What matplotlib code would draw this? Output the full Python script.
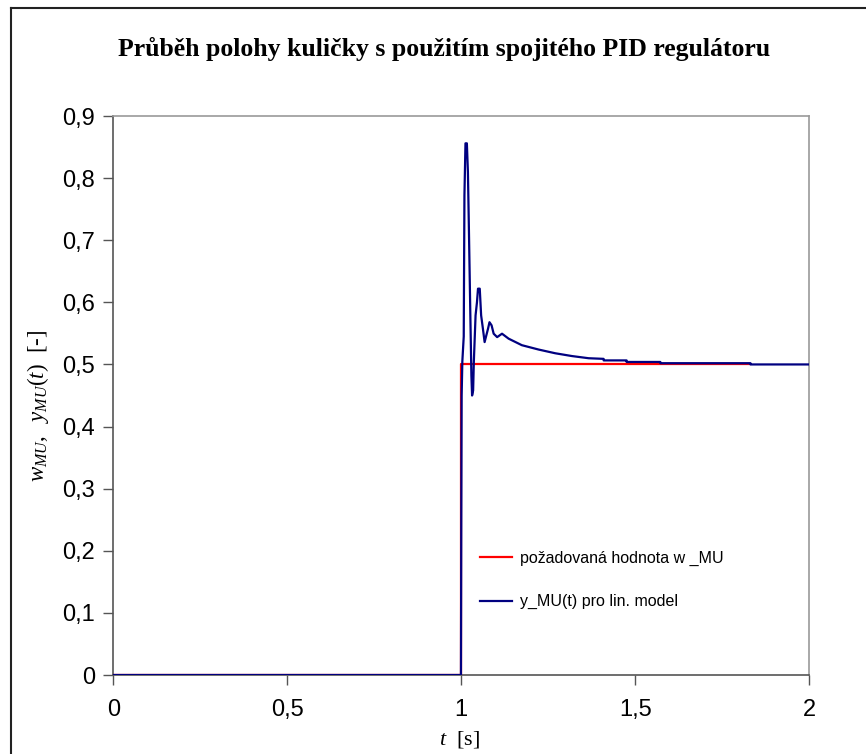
import matplotlib
matplotlib.use("Agg")
import matplotlib.pyplot as plt
from matplotlib.lines import Line2D

plt.rcParams['mathtext.fontset'] = 'custom'
plt.rcParams['mathtext.rm'] = 'Liberation Serif'
plt.rcParams['mathtext.it'] = 'Liberation Serif:italic'

# ---- data ----
title = "Průběh polohy kuličky s použitím spojitého PID regulátoru"
w_t = [0.0, 1.0, 1.0, 1.831]
w_y = [0.0, 0.0, 0.5, 0.5]

y_t = [0.0, 0.999, 1.000, 1.001, 1.003, 1.007, 1.009, 1.012, 1.016, 1.019,
       1.0215, 1.026, 1.029, 1.031, 1.034, 1.036, 1.041, 1.045, 1.048, 1.053,
       1.057, 1.062, 1.067, 1.072, 1.077, 1.081, 1.087, 1.093, 1.103, 1.117,
       1.136, 1.174, 1.222, 1.270, 1.318, 1.366, 1.409, 1.409, 1.475, 1.475,
       1.572, 1.572, 1.831, 1.831, 2.0]
y_y = [0.0, 0.0, 0.25, 0.45, 0.505, 0.545, 0.772, 0.856, 0.856, 0.81,
       0.73, 0.579, 0.482, 0.45, 0.458, 0.504, 0.579, 0.60, 0.622, 0.622,
       0.579, 0.558, 0.536, 0.547, 0.558, 0.568, 0.563, 0.5495, 0.544, 0.5495,
       0.5415, 0.531, 0.524, 0.518, 0.5135, 0.510, 0.509, 0.5065, 0.5065, 0.504,
       0.504, 0.502, 0.502, 0.5, 0.5]

xticks = [0, 0.5, 1, 1.5, 2]
xtick_labels = ["0", "0,5", "1", "1,5", "2"]
yticks = [0, 0.1, 0.2, 0.3, 0.4, 0.5, 0.6, 0.7, 0.8, 0.9]
ytick_labels = ["0", "0,1", "0,2", "0,3", "0,4", "0,5", "0,6", "0,7", "0,8", "0,9"]

W, H = 866, 754
fig = plt.figure(figsize=(W / 100, H / 100), dpi=100)
fig.patch.set_facecolor('white')

# outer chart border (only left/top edges visible in the crop)
bx, by = 10.5 / W, 1 - 7.5 / H
fig.add_artist(Line2D([bx, bx], [0, by], transform=fig.transFigure,
                      color='#222222', lw=1.5))
fig.add_artist(Line2D([bx, 1.0], [by, by], transform=fig.transFigure,
                      color='#222222', lw=1.5))

ax = fig.add_axes([113.3 / W, 1 - 675 / H, (809.3 - 113.3) / W, (675 - 116) / H])

ax.plot(w_t, w_y, color='#FF0000', lw=1.6, label="požadovaná hodnota w _MU", zorder=3)
ax.plot(y_t, y_y, color='#000080', lw=1.6, label="y_MU(t) pro lin. model", zorder=4)

ax.set_xlim(0, 2)
ax.set_ylim(0, 0.9)
ax.set_xticks(xticks)
ax.set_xticklabels(xtick_labels, fontfamily='Liberation Sans', fontsize=17)
ax.set_yticks(yticks)
ax.set_yticklabels(ytick_labels, fontfamily='Liberation Sans', fontsize=17)
ax.tick_params(axis='both', direction='out', length=7, width=1, color='#555555', pad=6)
ax.tick_params(axis='x', pad=10)

for s in ['left', 'bottom']:
    ax.spines[s].set_color('#555555')
    ax.spines[s].set_linewidth(1.2)
for s in ['top', 'right']:
    ax.spines[s].set_color('#999999')
    ax.spines[s].set_linewidth(1.2)

fig.text(444.5 / W, 1 - 49 / H, title, ha='center', va='center',
         fontfamily='Liberation Serif', fontweight='bold', fontsize=18.5)

fig.text(460 / W, 1 - 740 / H, r"$t$  [s]", ha='center', va='center',
         fontfamily='Liberation Serif', fontsize=16)
fig.text(38 / W, 1 - 406 / H, r"$w_{MU},\ \ y_{MU}(t)$  [-]", ha='center', va='center',
         rotation=90, fontfamily='Liberation Serif', fontsize=16.5)

leg = ax.legend(loc='upper left', bbox_to_anchor=(480 / W, 1 - 551 / H),
                bbox_transform=fig.transFigure, frameon=False,
                prop={'family': 'Liberation Sans', 'size': 11.5},
                handlelength=2.0, handletextpad=0.5, labelspacing=1.75,
                borderpad=0, borderaxespad=0)

fig.savefig("out.png", dpi=100)
